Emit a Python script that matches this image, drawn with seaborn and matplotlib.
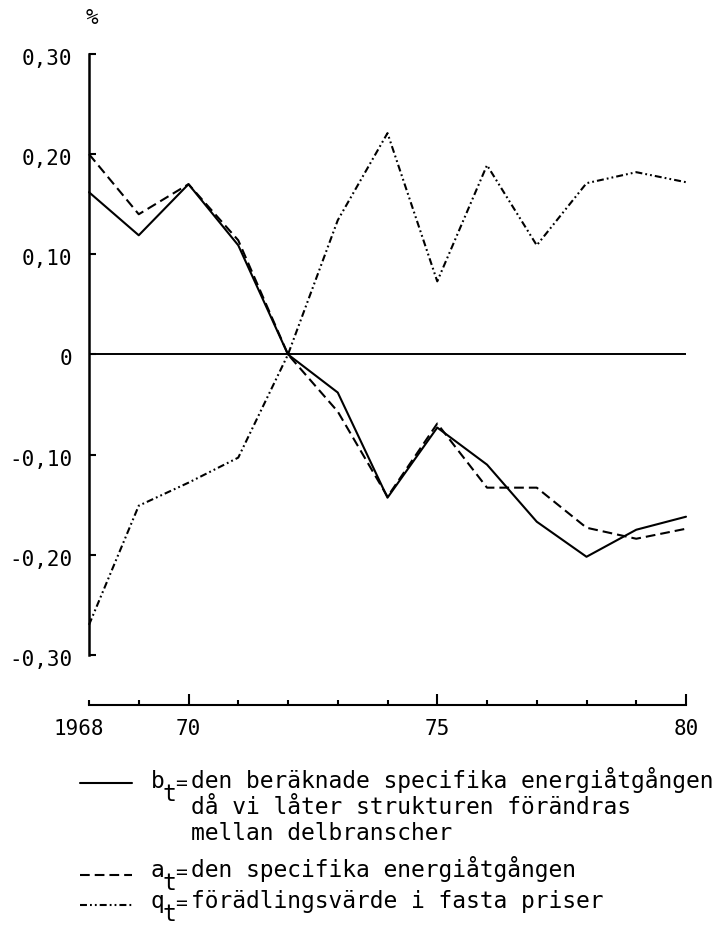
import matplotlib
matplotlib.use("Agg")
import matplotlib.pyplot as plt
from matplotlib.lines import Line2D
from matplotlib.transforms import ScaledTranslation
import seaborn as sns
import pandas as pd

# ---------------- data ----------------
years = [1968, 1969, 1970, 1971, 1972, 1973, 1974, 1975, 1976, 1977, 1978, 1979, 1980]
b_t = [0.162, 0.119, 0.170, 0.109, 0.0, -0.038, -0.143, -0.073, -0.110, -0.167, -0.202, -0.175, -0.162]
a_t = [0.200, 0.140, 0.170, 0.114, 0.0, -0.057, -0.142, -0.069, -0.133, -0.133, -0.173, -0.184, -0.174]
q_t = [-0.270, -0.151, -0.128, -0.103, 0.0, 0.134, 0.221, 0.073, 0.189, 0.109, 0.171, 0.182, 0.172]

ytick_values = [-0.30, -0.20, -0.10, 0.0, 0.10, 0.20, 0.30]
ytick_labels = ["-0,30", "-0,20", "-0,10", "0", "0,10", "0,20", "0,30"]
xtick_major = [1968, 1970, 1975, 1980]
xtick_major_labels = ["1968", "70", "75", "80"]
xtick_minor = [1969, 1971, 1972, 1973, 1974, 1976, 1977, 1978, 1979]

unit_label = "%"
legend_symbols = ["b", "a", "q"]
legend_sub = "t"
legend_texts = [
    ["den beräknade specifika energiåtgången",
     "då vi låter strukturen förändras",
     "mellan delbranscher"],
    ["den specifika energiåtgången"],
    ["förädlingsvärde i fasta priser"],
]

df = pd.DataFrame({"year": years, "b": b_t, "a": a_t, "q": q_t})

# ---------------- style ----------------
sns.set_theme(style="white")
plt.rcParams["font.family"] = ["DejaVu Sans Mono", "DejaVu Sans"]
plt.rcParams["lines.scale_dashes"] = False
plt.rcParams["axes.edgecolor"] = "black"

W, H = 721, 925
fig = plt.figure(figsize=(W / 100, H / 100), dpi=100, facecolor="white")
ax = fig.add_axes([89 / W, 1 - 705 / H, 597 / W, (705 - 54) / H])
ax.set_facecolor("white")

solid = "-"
dashed = (0, (7, 3.6))
dashdotdot = (0, (5, 2.2, 1.3, 2.2, 1.3, 2.2))
lw = 1.5

for col, ls in (("b", solid), ("a", dashed), ("q", dashdotdot)):
    sns.lineplot(data=df, x="year", y=col, ax=ax, color="black", linewidth=lw,
                 linestyle=ls, errorbar=None, clip_on=False)

ax.axhline(0, color="black", linewidth=1.4, zorder=1)

ax.set_xlim(1968, 1980)
ax.set_ylim(-0.35, 0.30)
ax.set_xlabel("")
ax.set_ylabel("")

for s in ("top", "right"):
    ax.spines[s].set_visible(False)
ax.spines["left"].set_bounds(-0.30, 0.30)
ax.spines["left"].set_linewidth(1.8)
ax.spines["bottom"].set_linewidth(1.5)

ax.set_yticks(ytick_values)
ax.set_yticklabels(ytick_labels)
ax.tick_params(axis="y", direction="in", length=5, width=1.5, pad=12,
               labelsize=15, left=True, colors="black")
for t in ax.get_yticklabels():
    t.set_transform(t.get_transform() + ScaledTranslation(0, -3 / 100, fig.dpi_scale_trans))

ax.set_xticks(xtick_major)
ax.set_xticklabels(xtick_major_labels)
ax.set_xticks(xtick_minor, minor=True)
ax.tick_params(axis="x", which="major", direction="in", length=8, width=1.5,
               pad=10, labelsize=15, bottom=True, colors="black")
ax.tick_params(axis="x", which="minor", direction="in", length=3.5, width=1.5,
               bottom=True, colors="black")
ax.xaxis.get_major_ticks()[0].tick1line.set_markersize(3.5)

# shift "1968" label left as in the reference
lbl = ax.get_xticklabels()[0]
lbl.set_transform(lbl.get_transform() + ScaledTranslation(-10 / 100, 0, fig.dpi_scale_trans))

ax.grid(False)

# unit label
fig.text(92 / W, 1 - 18 / H, unit_label, ha="center", va="center", fontsize=15, color="black")

# ---------------- legend (hand-laid) ----------------
def fx(px):
    return px / W

def fy(py):
    return 1 - py / H

line_y = [783, 875, 905]
base_y = [788, 877, 908]
styles = [solid, dashed, dashdotdot]
fs = 16.5
line_gap = 26
for i in range(3):
    fig.add_artist(Line2D([fx(80), fx(132)], [fy(line_y[i]), fy(line_y[i])],
                          transform=fig.transFigure, color="black",
                          linewidth=lw, linestyle=styles[i]))
    fig.text(fx(151), fy(base_y[i]), legend_symbols[i], ha="left", va="baseline",
             fontsize=fs, color="black")
    fig.text(fx(162), fy(base_y[i] + 13), legend_sub, ha="left", va="baseline",
             fontsize=fs, color="black")
    fig.text(fx(181), fy(base_y[i] + 1), "=", ha="center", va="baseline",
             fontsize=14, color="black")
    for j, t in enumerate(legend_texts[i]):
        fig.text(fx(191), fy(base_y[i] + j * line_gap), t, ha="left", va="baseline",
                 fontsize=fs, color="black")

fig.savefig("out.png", dpi=100, facecolor="white")
